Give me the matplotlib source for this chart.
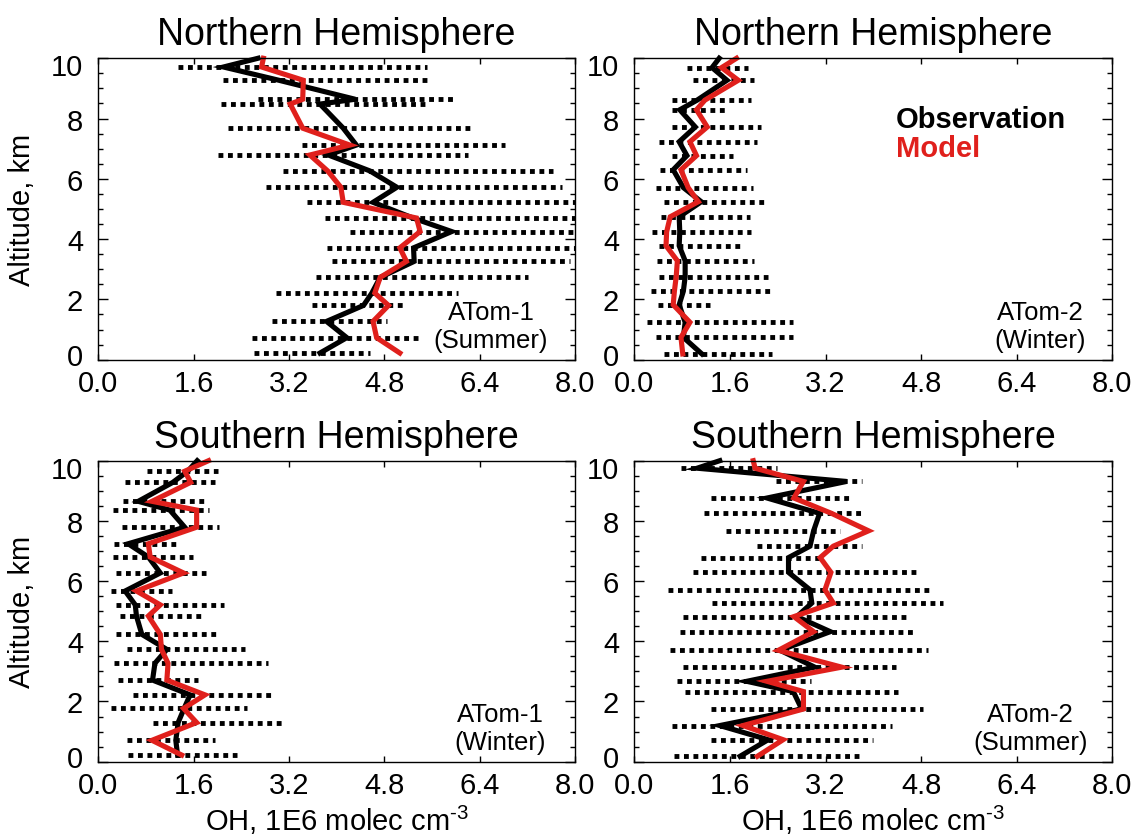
import numpy as np
import matplotlib
matplotlib.use("Agg")
import matplotlib.pyplot as plt
from matplotlib.transforms import ScaledTranslation

plt.rcParams.update({
    "font.family": "Liberation Sans",
    "mathtext.fontset": "custom",
    "mathtext.rm": "Liberation Sans",
    "mathtext.it": "Liberation Sans:italic",
    "mathtext.bf": "Liberation Sans:bold",
})

# Northern Hemisphere, ATom-1 (summer)
alt_nh1 = [0.22, 0.73, 1.27, 1.80, 2.21, 2.73, 3.26, 3.71, 4.25, 4.70, 5.22,
           5.72, 6.26, 6.79, 7.12, 7.68, 8.48, 8.64, 9.27, 9.71, 10.0]
obs_nh1 = [3.72, 4.17, 3.83, 4.45, 4.59, 4.73, 5.30, 5.29, 5.93, 5.28, 4.61,
           5.01, 4.56, 3.86, 4.33, 4.11, 3.72, 4.31, 3.03, 2.10, 2.68]
mod_nh1 = [5.06, 4.67, 4.61, 4.87, 4.64, 4.73, 5.17, 5.06, 5.40, 5.34, 4.11,
           4.07, 3.85, 3.55, 4.22, 3.43, 3.22, 3.43, 3.44, 2.74, 2.77]
lo_nh1 = [2.62, 2.58, 2.92, 3.58, 2.98, 3.65, 3.92, 3.83, 4.22, 3.80, 3.51,
          2.81, 3.10, 2.00, 3.41, 2.18, 2.06, 2.68, 2.10, 1.33, np.nan]
hi_nh1 = [4.56, 5.36, 4.84, 5.15, 6.04, 7.21, 7.91, 8.30, 8.50, 8.40, 8.30,
          7.78, 7.63, 6.21, 6.82, 6.24, 5.48, 5.96, 5.51, 5.51, np.nan]

# Northern Hemisphere, ATom-2 (winter)
alt_nh2 = [0.19, 0.74, 1.24, 1.82, 2.27, 2.75, 3.28, 3.78, 4.24, 4.74, 5.24,
           5.71, 6.30, 6.77, 7.23, 7.72, 8.29, 8.61, 9.27, 9.69, 10.0]
obs_nh2 = [1.13, 0.82, 0.85, 0.75, 0.82, 0.85, 0.85, 0.75, 0.76, 0.75, 1.12,
           0.82, 0.65, 0.88, 0.75, 1.02, 0.76, 1.05, 1.55, 1.30, 1.42]
mod_nh2 = [0.81, 0.78, 0.93, 0.65, 0.67, 0.70, 0.72, 0.53, 0.54, 0.60, 1.07,
           0.90, 0.78, 1.04, 0.93, 1.22, 1.04, 1.18, 1.74, 1.46, 1.71]
lo_nh2 = [0.50, 0.36, 0.21, 0.39, 0.28, 0.41, 0.38, 0.41, 0.30, 0.45, 0.50,
          0.36, 0.43, 0.63, 0.41, 0.63, 0.63, 0.63, 0.98, 0.88, np.nan]
hi_nh2 = [2.30, 2.66, 2.66, 1.26, 2.27, 2.23, 2.01, 1.76, 1.96, 1.94, 2.17,
          1.99, 1.88, 1.65, 2.06, 2.12, 1.57, 1.96, 2.01, 1.91, np.nan]

# Southern Hemisphere, ATom-1 (winter)
alt_sh1 = [0.22, 0.71, 1.30, 1.77, 2.22, 2.71, 3.27, 3.73, 4.23, 4.84, 5.21,
           5.67, 6.27, 6.80, 7.24, 7.79, 8.36, 8.65, 9.28, 9.65, 10.0]
obs_sh1 = [1.33, 1.30, 1.34, 1.44, 1.54, 0.91, 0.95, 1.15, 0.73, 0.64, 0.62,
           0.45, 1.04, 0.84, 0.50, 1.45, 1.20, 0.67, 1.25, 1.50, 1.66]
mod_sh1 = [1.40, 0.90, 1.65, 1.43, 1.79, 1.15, 1.17, 1.06, 1.04, 0.84, 1.04,
           0.64, 1.43, 0.87, 0.84, 1.65, 1.65, 0.90, 1.55, 1.45, 1.85]
lo_sh1 = [0.49, 0.48, 0.92, 0.21, 0.58, 0.33, 0.27, 0.48, 0.30, 0.36, 0.29,
          0.21, 0.29, 0.24, 0.26, 0.40, 0.25, 0.42, 0.44, 0.81, np.nan]
hi_sh1 = [2.32, 1.95, 3.08, 2.49, 2.96, 1.68, 2.84, 2.46, 2.04, 1.79, 2.11,
          1.24, 1.80, 1.59, 1.30, 2.03, 1.85, 1.77, 1.95, 2.00, np.nan]

# Southern Hemisphere, ATom-2 (summer)
alt_sh2 = [0.18, 0.73, 1.20, 1.75, 2.33, 2.67, 3.14, 3.70, 4.32, 4.82, 5.27,
           5.71, 6.29, 6.78, 7.16, 7.67, 8.25, 8.76, 9.31, 9.75, 10.0]
obs_sh2 = [1.77, 2.24, 1.43, 2.80, 2.66, 1.88, 3.02, 2.44, 3.28, 2.72, 2.97,
           2.94, 2.58, 2.58, 2.94, 3.00, 3.10, 2.22, 3.55, 1.05, 1.43]
mod_sh2 = [2.06, 2.49, 1.82, 2.83, 2.83, 2.22, 3.47, 2.41, 3.00, 2.67, 3.33,
           3.19, 3.29, 3.11, 3.33, 3.92, 3.30, 2.67, 2.83, 2.02, 1.99]
lo_sh2 = [0.66, 1.28, 0.63, 1.28, 0.85, 0.71, 0.82, 0.60, 0.76, 0.82, 1.30,
          0.57, 0.98, 1.11, 2.05, 1.53, 1.17, 1.28, 2.37, 0.78, np.nan]
hi_sh2 = [3.77, 4.00, 4.32, 4.83, 4.42, 2.95, 4.38, 4.92, 4.66, 4.56, 5.17,
          5.00, 4.71, 3.10, 3.81, 3.44, 3.86, 3.60, 3.81, 2.38, np.nan]

titles = ["Northern Hemisphere", "Northern Hemisphere",
          "Southern Hemisphere", "Southern Hemisphere"]
campaigns = ["ATom-1", "ATom-2", "ATom-1", "ATom-2"]
seasons = ["(Summer)", "(Winter)", "(Winter)", "(Summer)"]
xticks = [0.0, 1.6, 3.2, 4.8, 6.4, 8.0]
yticks = [0, 2, 4, 6, 8, 10]

panels = [
    (alt_nh1, obs_nh1, mod_nh1, lo_nh1, hi_nh1),
    (alt_nh2, obs_nh2, mod_nh2, lo_nh2, hi_nh2),
    (alt_sh1, obs_sh1, mod_sh1, lo_sh1, hi_sh1),
    (alt_sh2, obs_sh2, mod_sh2, lo_sh2, hi_sh2),
]

RED = "#e0201c"

fig = plt.figure(figsize=(11.34, 8.37), dpi=100)
boxes = [
    [0.0867, 0.5691, 0.4204, 0.3601],
    [0.5594, 0.5691, 0.4215, 0.3601],
    [0.0867, 0.0888, 0.4204, 0.3596],
    [0.5594, 0.0888, 0.4215, 0.3596],
]
label_x = [6.59, 6.79, 6.75, 6.63]

for i, (alt, obs, mod, lo, hi) in enumerate(panels):
    ax = fig.add_axes(boxes[i])
    # spread of the observations, dotted bars
    ax.hlines(alt, lo, hi, colors="black", linewidth=3.5,
              linestyles=(0, (1, 0.95)), capstyle="butt")
    ax.plot(obs, alt, color="black", lw=3.7, solid_joinstyle="miter", clip_on=False)
    ax.plot(mod, alt, color=RED, lw=3.7, solid_joinstyle="miter", clip_on=False)

    ax.set_xlim(0, 8)
    ax.set_ylim(0, 10)
    ax.set_xticks(xticks, ["%.1f" % v for v in xticks])
    ax.set_yticks(yticks, [str(v) for v in yticks])
    ax.set_yticks(np.arange(0, 10.01, 0.5), minor=True)
    for s in ax.spines.values():
        s.set_linewidth(1.0)
    ax.tick_params(axis="both", which="both", direction="in", top=True,
                   right=True, width=1.0, labelsize=21)
    ax.tick_params(axis="y", which="major", length=7.2, pad=11)
    ax.tick_params(axis="y", which="minor", length=3.6)
    ax.tick_params(axis="x", which="major", length=4.3, pad=7)

    # end labels sit a little inside the frame
    ylabs = ax.get_yticklabels()
    ylabs[0].set_transform(ylabs[0].get_transform() +
                           ScaledTranslation(0, 0.06, fig.dpi_scale_trans))
    ylabs[-1].set_transform(ylabs[-1].get_transform() +
                            ScaledTranslation(0, -0.06, fig.dpi_scale_trans))

    ax.set_title(titles[i], fontsize=27, pad=10)
    ax.text(label_x[i], 1.35, campaigns[i], ha="center", va="baseline", fontsize=18.5)
    ax.text(label_x[i], 0.42, seasons[i], ha="center", va="baseline", fontsize=18.5)

    if i == 1:
        ax.text(0.5475, 0.771, "Observation", transform=ax.transAxes,
                fontsize=21, fontweight="bold", va="baseline", color="black")
        ax.text(0.5475, 0.676, "Model", transform=ax.transAxes,
                fontsize=21, fontweight="bold", va="baseline", color=RED)

    b = boxes[i]
    if i % 2 == 0:
        fig.text(0.0191, b[1] + b[3] / 2, "Altitude, km", rotation=90,
                 ha="center", va="center", fontsize=21)
    if i >= 2:
        fig.text(b[0] + b[2] / 2, 0.0066, r"OH, 1E6 molec cm$^{\text{-3}}$",
                 ha="center", va="baseline", fontsize=21)

fig.savefig("out.png", dpi=100)
